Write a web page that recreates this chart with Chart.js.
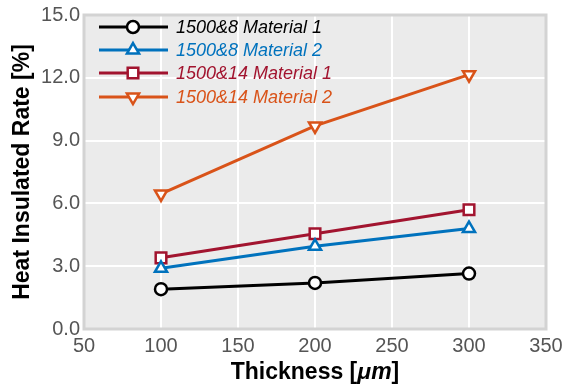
<!DOCTYPE html>
<html>
<head>
<meta charset="utf-8">
<script src="https://cdn.jsdelivr.net/npm/chart.js@4/dist/chart.umd.min.js"></script>
<style>
  html, body { margin: 0; padding: 0; background: #fff; }
  #wrap { width: 563px; height: 387px; }
</style>
</head>
<body>
<div id="wrap"><canvas id="chart" width="563" height="387"></canvas></div>
<script>
"use strict";

const thickness = [100, 200, 300];

const mat1_8 = [1.9, 2.2, 2.65];
const mat2_8 = [2.9, 3.95, 4.8];
const mat1_14 = [3.4, 4.55, 5.7];
const mat2_14 = [6.45, 9.7, 12.15];

const seriesNames = ['1500&8 Material 1', '1500&8 Material 2', '1500&14 Material 1', '1500&14 Material 2'];
const xTicks = [50, 100, 150, 200, 250, 300, 350];
const yTicks = [0, 3, 6, 9, 12, 15];

const FONT = '"Liberation Sans", Arial, sans-serif';

const styles = [
    { color: '#000000', pointStyle: 'circle', radius: 6, rotation: 0 },
    { color: '#0072BD', pointStyle: 'triangle', radius: 7, rotation: 0 },
    { color: '#A2142F', pointStyle: 'rect', radius: 7.5, rotation: 0 },
    { color: '#D95319', pointStyle: 'triangle', radius: 7, rotation: 180 }
];

const allData = [mat1_8, mat2_8, mat1_14, mat2_14];

const datasets = allData.map((vals, i) => ({
    label: seriesNames[i],
    data: vals.map((v, j) => ({ x: thickness[j], y: v })),
    borderColor: styles[i].color,
    borderWidth: 3,
    pointStyle: styles[i].pointStyle,
    pointRadius: styles[i].radius,
    pointRotation: styles[i].rotation,
    pointBackgroundColor: '#ffffff',
    pointBorderColor: styles[i].color,
    pointBorderWidth: 2.5,
    tension: 0
}));

// grey panel behind the plot, light frame around it
const panel = {
    id: 'panel',
    beforeDraw(chart) {
        const { ctx, chartArea: a } = chart;
        ctx.save();
        ctx.fillStyle = '#ebebeb';
        ctx.fillRect(a.left, a.top, a.right - a.left, a.bottom - a.top);
        ctx.restore();
    },
    afterDraw(chart) {
        const { ctx, chartArea: a } = chart;
        ctx.save();
        ctx.strokeStyle = '#d3d3d3';
        ctx.lineWidth = 3;
        ctx.strokeRect(a.left, a.top, a.right - a.left, a.bottom - a.top);
        ctx.restore();
    }
};

// legend in the upper left corner of the plot
const innerLegend = {
    id: 'innerLegend',
    afterDraw(chart) {
        const { ctx, chartArea: a } = chart;
        ctx.save();
        const x0 = a.left + 15, x1 = a.left + 84, xm = a.left + 49;
        const rows = [27, 50, 73, 97];
        seriesNames.forEach((name, i) => {
            const y = rows[i];
            const st = styles[i];
            ctx.strokeStyle = st.color;
            ctx.lineWidth = 3;
            ctx.beginPath();
            ctx.moveTo(x0, y);
            ctx.lineTo(x1, y);
            ctx.stroke();
            ctx.fillStyle = '#ffffff';
            ctx.lineWidth = 2.5;
            Chart.helpers.drawPoint(ctx, {
                pointStyle: st.pointStyle, radius: st.radius, rotation: st.rotation, borderWidth: 2.5
            }, xm, y);
            ctx.fillStyle = st.color;
            ctx.font = 'italic 18px ' + FONT;
            ctx.textBaseline = 'middle';
            ctx.textAlign = 'left';
            ctx.fillText(name, a.left + 92, y + 1);
        });
        ctx.restore();
    }
};

// x axis title with italic unit
const xTitle = {
    id: 'xTitle',
    afterDraw(chart) {
        const { ctx, chartArea: a } = chart;
        ctx.save();
        ctx.fillStyle = '#000';
        ctx.textBaseline = 'middle';
        const parts = [
            { t: 'Thickness [', f: 'bold 23px ' + FONT },
            { t: '\u03bcm', f: 'italic bold 23px ' + FONT },
            { t: ']', f: 'bold 23px ' + FONT }
        ];
        let total = 0;
        parts.forEach(p => { ctx.font = p.f; p.w = ctx.measureText(p.t).width; total += p.w; });
        let x = (a.left + a.right) / 2 - total / 2;
        const y = 373;
        ctx.textAlign = 'left';
        parts.forEach(p => { ctx.font = p.f; ctx.fillText(p.t, x, y); x += p.w; });
        ctx.restore();
    }
};

new Chart(document.getElementById('chart'), {
    type: 'line',
    data: { datasets },
    plugins: [panel, innerLegend, xTitle],
    options: {
        responsive: false,
        animation: false,
        events: [],
        layout: { padding: { top: 15, right: 17, left: 0, bottom: 0 } },
        plugins: {
            legend: { display: false },
            tooltip: { enabled: false }
        },
        scales: {
            x: {
                type: 'linear',
                min: 50,
                max: 350,
                afterBuildTicks: s => { s.ticks = xTicks.map(v => ({ value: v })); },
                afterFit: s => { s.height = 58; s.paddingRight = 0; s.paddingLeft = 0; },
                ticks: {
                    color: '#555555',
                    font: { family: FONT, size: 20 },
                    padding: 5,
                    maxRotation: 0
                },
                grid: { color: '#ffffff', lineWidth: 2, drawTicks: false },
                border: { display: false }
            },
            y: {
                min: 0,
                max: 15,
                afterBuildTicks: s => { s.ticks = yTicks.map(v => ({ value: v })); },
                afterFit: s => { s.width = 84; s.paddingTop = 0; s.paddingBottom = 0; },
                ticks: {
                    color: '#555555',
                    font: { family: FONT, size: 20 },
                    padding: 4,
                    callback: v => Number(v).toFixed(1)
                },
                grid: { color: '#ffffff', lineWidth: 2, drawTicks: false },
                border: { display: false },
                title: {
                    display: true,
                    text: 'Heat Insulated Rate [%]',
                    color: '#000',
                    font: { family: FONT, size: 23, weight: 'bold' },
                    padding: { top: 9, bottom: 0 }
                }
            }
        }
    }
});
</script>
</body>
</html>
